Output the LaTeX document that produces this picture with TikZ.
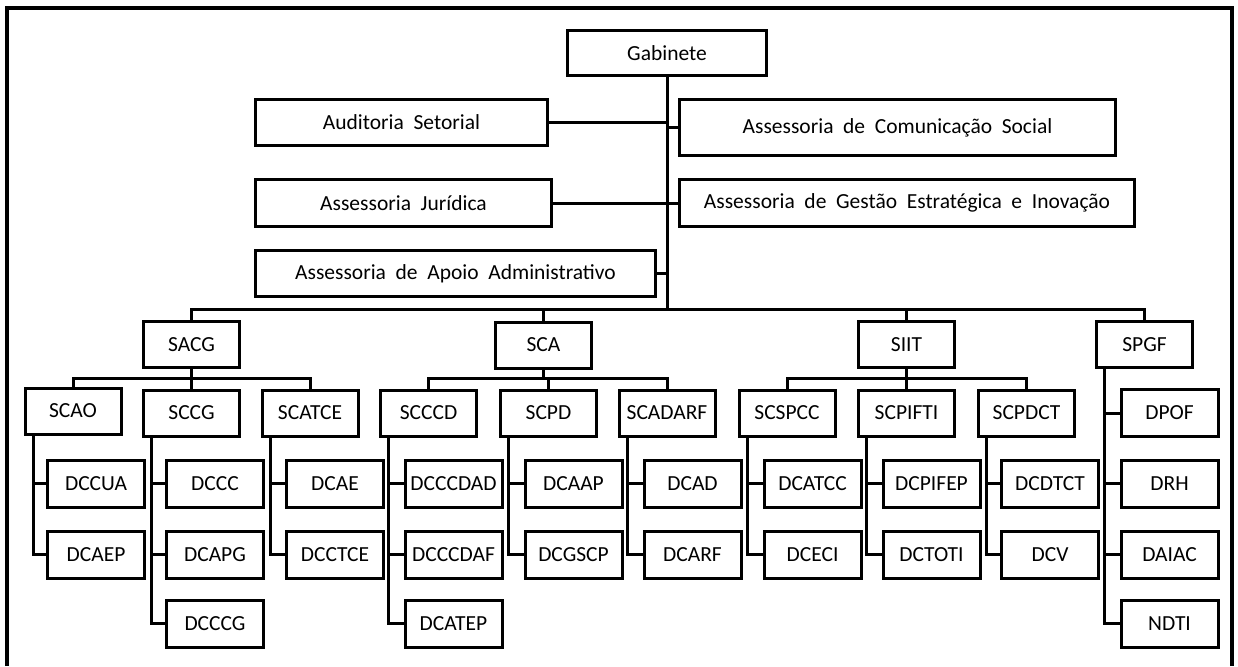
\documentclass[tikz,border=0pt]{standalone}
\usepackage{fontspec}
\setmainfont{Carlito}
\newcommand\orgfont{\fontsize{21.5}{25}\selectfont\spaceskip=0.45em\relax}
\begin{document}
\begin{tikzpicture}[x=1pt,y=-1pt,
  box/.style={draw, line width=3pt, inner sep=0pt, minimum width=96pt, minimum height=46pt, font=\orgfont, align=center},
  leaf/.style={box, minimum width=97pt, minimum height=47pt},
  wire/.style={line width=3pt}]
\useasboundingbox (0,0) rectangle (1238,666);
% frame
\draw[line width=3.5pt] (7,666) -- (7,8) -- (1232,8) -- (1232,666);

% top level
\node[box, minimum width=199pt, minimum height=45pt] (gab) at (667,53) {Gabinete};
\node[box, minimum width=292pt] (aud) at (401.5,122.5) {Auditoria Setorial};
\node[box, minimum width=296pt, minimum height=47pt] (jur) at (403.5,203) {Assessoria Jurídica};
\node[box, minimum width=400pt] (apo) at (455.5,273.5) {Assessoria de Apoio Administrativo};
\node[box, minimum width=436pt, minimum height=56pt] (com) at (897.5,127.5) {Assessoria de Comunicação Social};
\node[box, minimum width=455pt, minimum height=47pt] (ges) at (907,203) {Assessoria de Gestão Estratégica e Inovação};

\coordinate (bar) at (667,309);
\coordinate (sb) at (0,378);
\draw[wire] (gab.south) -- (bar);
\draw[wire] (aud.east) -- (aud.east -| gab.south);
\draw[wire] (jur.east) -- (jur.east -| gab.south);
\draw[wire] (apo.east) -- (apo.east -| gab.south);
\draw[wire] (com.west) -- (com.west -| gab.south);
\draw[wire] (ges.west) -- (ges.west -| gab.south);

% level 1
\node[box] (sacg) at (191.5,344.5) {SACG};
\node[box] (sca)  at (543.5,345) {SCA};
\node[box] (siit) at (906.5,344.5) {SIIT};
\node[box] (spgf) at (1144.5,344.5) {SPGF};
\draw[wire] (sacg.north) -- (sacg.north |- bar) -- (spgf.north |- bar) -- (spgf.north);
\draw[wire] (sca.north) -- (sca.north |- bar);
\draw[wire] (siit.north) -- (siit.north |- bar);

% level 2
\node[box] (scao)    at (73,411) {SCAO};
\node[box] (sccg)    at (191.5,413) {SCCG};
\node[box] (scatce)  at (310,413) {SCATCE};
\node[box] (scccd)   at (428.5,413) {SCCCD};
\node[box] (scpd)    at (548.5,413) {SCPD};
\node[box] (scadarf) at (667,413) {SCADARF};
\node[box] (scspcc)  at (787,413) {SCSPCC};
\node[box] (scpifti) at (906.5,413) {SCPIFTI};
\node[box] (scpdct)  at (1026.5,413) {SCPDCT};

\draw[wire] (sacg.south) -- (sacg.south |- sb);
\draw[wire] (scao.north) -- (scao.north |- sb) -- (scatce.north |- sb) -- (scatce.north);
\draw[wire] (sccg.north) -- (sccg.north |- sb);
\draw[wire] (sca.south) -- (sca.south |- sb);
\draw[wire] (scccd.north) -- (scccd.north |- sb) -- (scadarf.north |- sb) -- (scadarf.north);
\draw[wire] (scpd.north) -- (scpd.north |- sb);
\draw[wire] (siit.south) -- (siit.south |- sb);
\draw[wire] (scspcc.north) -- (scspcc.north |- sb) -- (scpdct.north |- sb) -- (scpdct.north);
\draw[wire] (scpifti.north) -- (scpifti.north |- sb);

% level 3
\node[leaf] (dccua)   at (96,483.5) {DCCUA};
\node[leaf] (dcaep)   at (96,554.5) {DCAEP};
\node[leaf] (dccc)    at (215,483.5) {DCCC};
\node[leaf] (dcapg)   at (215,554.5) {DCAPG};
\node[leaf] (dcccg)   at (215,623.5) {DCCCG};
\node[leaf] (dcae)    at (335,483.5) {DCAE};
\node[leaf] (dcctce)  at (335,554.5) {DCCTCE};
\node[leaf] (dcccdad) at (453.5,483.5) {DCCCDAD};
\node[leaf] (dcccdaf) at (453.5,554.5) {DCCCDAF};
\node[leaf] (dcatep)  at (453.5,623.5) {DCATEP};
\node[leaf] (dcaap)   at (573.5,483.5) {DCAAP};
\node[leaf] (dcgscp)  at (573.5,554.5) {DCGSCP};
\node[leaf] (dcad)    at (692.5,483.5) {DCAD};
\node[leaf] (dcarf)   at (692.5,554.5) {DCARF};
\node[leaf] (dcatcc)  at (812.5,483.5) {DCATCC};
\node[leaf] (dceci)   at (812.5,554.5) {DCECI};
\node[leaf] (dcpifep) at (931.5,483.5) {DCPIFEP};
\node[leaf] (dctoti)  at (931.5,554.5) {DCTOTI};
\node[leaf] (dcdtct)  at (1050,483.5) {DCDTCT};
\node[leaf] (dcv)     at (1050,554.5) {DCV};
\node[leaf] (dpof)    at (1169.5,413) {DPOF};
\node[leaf] (drh)     at (1169.5,483.5) {DRH};
\node[leaf] (daiac)   at (1169.5,554.5) {DAIAC};
\node[leaf] (ndti)    at (1169.5,623.5) {NDTI};

\foreach \p/\kids in {scao/{dccua,dcaep}, sccg/{dccc,dcapg,dcccg}, scatce/{dcae,dcctce},
  scccd/{dcccdad,dcccdaf,dcatep}, scpd/{dcaap,dcgscp}, scadarf/{dcad,dcarf},
  scspcc/{dcatcc,dceci}, scpifti/{dcpifep,dctoti}, scpdct/{dcdtct,dcv},
  spgf/{dpof,drh,daiac,ndti}}{
  \foreach \k in \kids {
    \draw[wire] ([xshift=9.5pt]\p.south west) |- (\k.west);
  }
}
\end{tikzpicture}
\end{document}
